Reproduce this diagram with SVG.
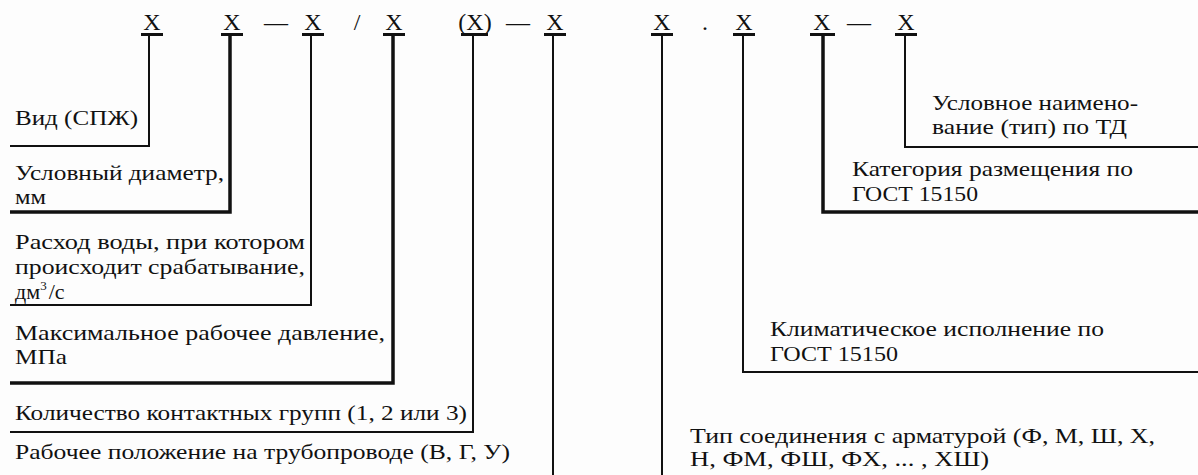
<svg xmlns="http://www.w3.org/2000/svg" width="1198" height="475" viewBox="0 0 1198 475">
<style>
text{font-family:'Liberation Serif','DejaVu Serif',serif;fill:#111;}
.x{font-size:24px;text-anchor:middle;}
.t{font-size:22px;}
.ln{stroke:#111;fill:none;stroke-width:2;}
.thk{stroke-width:3.5;}
.bar{fill:#111;}
</style>
<rect width="1198" height="475" fill="#fdfdfd"/>
<g id="code">
<text class="x" x="152" y="30">X</text>
<text class="x" x="232" y="30">X</text>
<text class="x" x="276" y="30">—</text>
<text class="x" x="313" y="30">X</text>
<text class="x" x="357" y="30">/</text>
<text class="x" x="394" y="30">X</text>
<text class="x" x="475" y="30">(X)</text>
<text class="x" x="518" y="30">—</text>
<text class="x" x="555" y="30">X</text>
<text class="x" x="662" y="30">X</text>
<text class="x" x="705" y="30">.</text>
<text class="x" x="744" y="30">X</text>
<text class="x" x="822" y="30">X</text>
<text class="x" x="859" y="30">—</text>
<text class="x" x="906" y="30">X</text>
<rect class="bar" x="141" y="33" width="22" height="3"/>
<rect class="bar" x="221" y="33" width="22" height="3"/>
<rect class="bar" x="302" y="33" width="22" height="3"/>
<rect class="bar" x="383" y="33" width="22" height="3"/>
<rect class="bar" x="461" y="33" width="27" height="3"/>
<rect class="bar" x="544" y="33" width="22" height="3"/>
<rect class="bar" x="651" y="33" width="22" height="3"/>
<rect class="bar" x="733" y="33" width="22" height="3"/>
<rect class="bar" x="810" y="33" width="25" height="3"/>
<rect class="bar" x="895" y="33" width="22" height="3"/>
</g>
<g id="connectors">
<polyline class="ln" points="149,35 149,146 10,146"/>
<polyline class="ln thk" points="230,35 230,212 10,212"/>
<polyline class="ln" points="311,35 311,305 10,305"/>
<polyline class="ln thk" points="393,35 393,383 10,383"/>
<polyline class="ln" points="473,35 473,432 10,432"/>
<polyline class="ln" points="553,35 553,475"/>
<polyline class="ln" points="662,35 662,475"/>
<polyline class="ln" points="743,35 743,372 1198,372"/>
<polyline class="ln thk" points="823,35 823,212 1198,212"/>
<polyline class="ln" points="905,35 905,147 1198,147"/>
</g>
<g id="n1"><text class="t" x="15" y="125" textLength="123" lengthAdjust="spacingAndGlyphs">Вид (СПЖ)</text></g>
<g id="n2"><text class="t" x="15" y="180" textLength="209" lengthAdjust="spacingAndGlyphs">Условный диаметр,</text><text class="t" x="15" y="204" textLength="31" lengthAdjust="spacingAndGlyphs">мм</text></g>
<g id="n3"><text class="t" x="15" y="249" textLength="290" lengthAdjust="spacingAndGlyphs">Расход воды, при котором</text><text class="t" x="15" y="274" textLength="290" lengthAdjust="spacingAndGlyphs">происходит срабатывание,</text><text class="t" x="15" y="299">дм<tspan font-size="13" dy="-9">3</tspan><tspan dy="9" dx="2">/с</tspan></text></g>
<g id="n4"><text class="t" x="15" y="340" textLength="370" lengthAdjust="spacingAndGlyphs">Максимальное рабочее давление,</text><text class="t" x="15" y="364" textLength="52" lengthAdjust="spacingAndGlyphs">МПа</text></g>
<g id="n5"><text class="t" x="15" y="420" textLength="452" lengthAdjust="spacingAndGlyphs">Количество контактных групп (1, 2 или 3)</text></g>
<g id="n6"><text class="t" x="15" y="459" textLength="495" lengthAdjust="spacingAndGlyphs">Рабочее положение на трубопроводе (В, Г, У)</text></g>
<g id="n7"><text class="t" x="690" y="443" textLength="465" lengthAdjust="spacingAndGlyphs">Тип соединения с арматурой (Ф, М, Ш, X,</text><text class="t" x="690" y="466" textLength="299" lengthAdjust="spacingAndGlyphs">Н, ФМ, ФШ, ФХ, ... , ХШ)</text></g>
<g id="n8"><text class="t" x="770" y="336" textLength="334" lengthAdjust="spacingAndGlyphs">Климатическое исполнение по</text><text class="t" x="770" y="361" textLength="128" lengthAdjust="spacingAndGlyphs">ГОСТ 15150</text></g>
<g id="n9"><text class="t" x="852" y="176" textLength="281" lengthAdjust="spacingAndGlyphs">Категория размещения по</text><text class="t" x="852" y="201" textLength="126" lengthAdjust="spacingAndGlyphs">ГОСТ 15150</text></g>
<g id="n10"><text class="t" x="932" y="110" textLength="206" lengthAdjust="spacingAndGlyphs">Условное наимено-</text><text class="t" x="932" y="134" textLength="195" lengthAdjust="spacingAndGlyphs">вание (тип) по ТД</text></g>
</svg>
